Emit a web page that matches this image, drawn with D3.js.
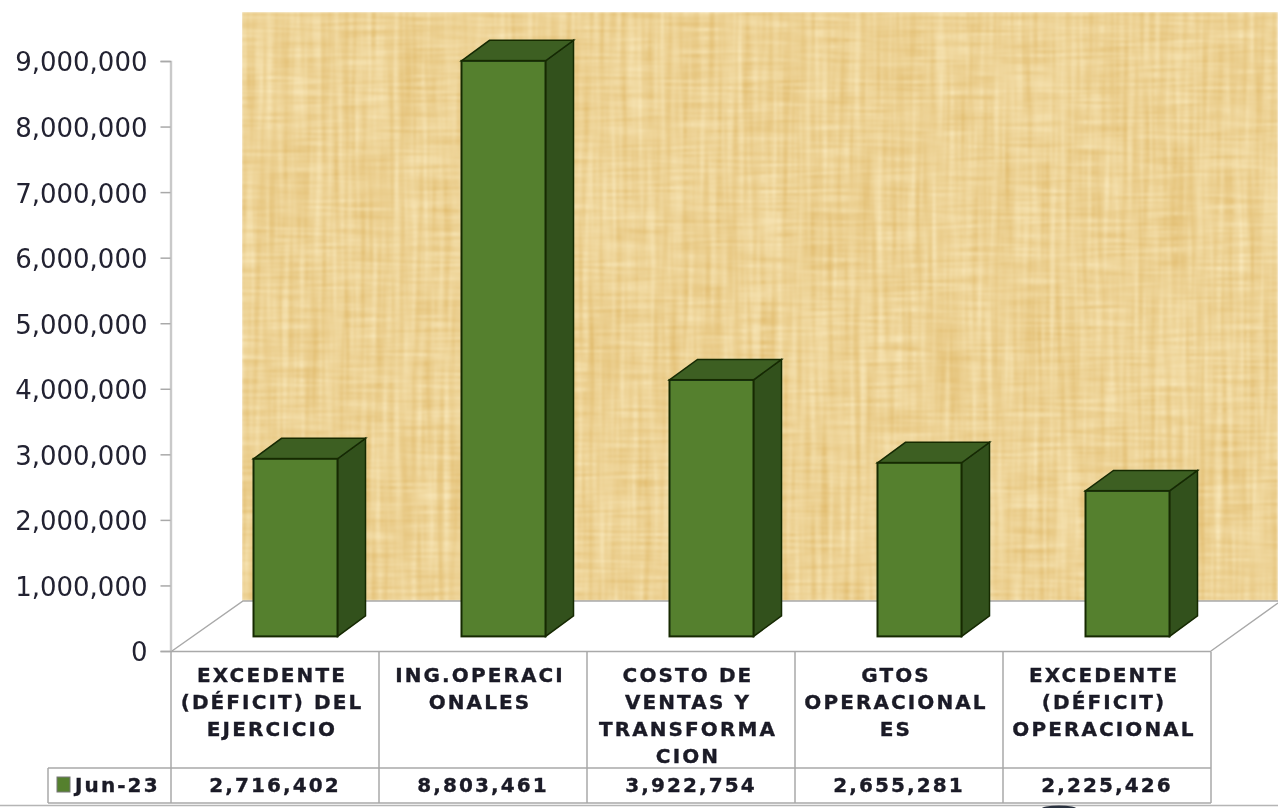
<!DOCTYPE html>
<html><head><meta charset="utf-8">
<script src="https://cdn.jsdelivr.net/npm/d3@7/dist/d3.min.js"></script>
<style>html,body{margin:0;padding:0;background:#fff}svg{display:block}</style>
</head><body><svg id="c" width="1278" height="808"></svg>
<script>
const categories = [
  ["EXCEDENTE","(DÉFICIT) DEL","EJERCICIO"],
  ["ING.OPERACI","ONALES"],
  ["COSTO DE","VENTAS Y","TRANSFORMA","CION"],
  ["GTOS","OPERACIONAL","ES"],
  ["EXCEDENTE","(DÉFICIT)","OPERACIONAL"]
];
const seriesName = "Jun-23";
const values = [2716402, 8803461, 3922754, 2655281, 2225426];
const tickValues = [0,1e6,2e6,3e6,4e6,5e6,6e6,7e6,8e6,9e6];

const svg = d3.select("#c");
const fmt = d3.format(",");
const y = d3.scaleLinear().domain([0,9000000]).range([651,61]);
const yBar = d3.scaleLinear().domain([0,9000000]).range([636.4,48]);
const x = d3.scaleBand().domain(d3.range(values.length)).range([171,1211]);
const grid = "#a9a9a9", ink = "#1a1a26";
const depthX = 28, depthY = 20.5, barW = 84, barShift = 20.5;

const defs = svg.append("defs");
const f = defs.append("filter").attr("id","papyrus").attr("x",0).attr("y",0).attr("width",1).attr("height",1)
  .attr("color-interpolation-filters","sRGB");
f.append("feTurbulence").attr("type","fractalNoise").attr("baseFrequency","0.015 0.3").attr("numOctaves",2).attr("seed",4).attr("result","h");
f.append("feTurbulence").attr("type","fractalNoise").attr("baseFrequency","0.18 0.007").attr("numOctaves",3).attr("seed",9).attr("result","v");
f.append("feComposite").attr("in","h").attr("in2","v").attr("operator","arithmetic").attr("k1",0).attr("k2",.45).attr("k3",.55).attr("k4",0).attr("result","n");
f.append("feColorMatrix").attr("in","n").attr("type","matrix").attr("values",
  "0.16 0 0 0 0.850  0.30 0 0 0 0.675  0.52 0 0 0 0.325  0 0 0 0 1");
f.append("feGaussianBlur").attr("stdDeviation",0.9);
const soft = defs.append("filter").attr("id","soft");
soft.append("feGaussianBlur").attr("stdDeviation",0.45);

// wall and floor
svg.append("rect").attr("x",242).attr("y",12).attr("width",1036).attr("height",589).attr("fill","#eccf92").attr("filter","url(#papyrus)");
const fl = svg.append("g").attr("filter","url(#soft)");
fl.append("path").attr("d","M171,651L243,601H1278V603L1211,651Z").attr("fill","#fff");
fl.append("path").attr("d","M172,651L243,601H1278M1278,603L1211,651").attr("fill","none").attr("stroke",grid).attr("stroke-width",1.5);

// bars
const bars = svg.append("g").attr("filter","url(#soft)").selectAll("g").data(values).join("g");
const bx = (d,i)=>x(i)+x.bandwidth()/2+barShift-barW/2;
const barTop = d=>yBar(d);
const base = yBar(0);
bars.append("path").attr("fill","#33511d").attr("stroke","#162a06").attr("stroke-width",1.5)
  .attr("d",(d,i)=>{const r=bx(d,i)+barW;return `M${r},${barTop(d)}L${r+depthX},${barTop(d)-depthY}V${base-depthY}L${r},${base}Z`});
bars.append("path").attr("fill","#3d5f24").attr("stroke","#162a06").attr("stroke-width",1.5)
  .attr("d",(d,i)=>{const l=bx(d,i),r=l+barW;return `M${l},${barTop(d)}L${l+depthX},${barTop(d)-depthY}H${r+depthX}L${r},${barTop(d)}Z`});
bars.append("rect").attr("x",bx).attr("y",barTop).attr("width",barW).attr("height",d=>base-barTop(d))
  .attr("fill","#55802f").attr("stroke","#162a06").attr("stroke-width",2);

// y axis
const ax = svg.append("g").attr("transform","translate(170.5,0)").attr("filter","url(#soft)")
  .call(d3.axisLeft(y).tickValues(tickValues).tickFormat(fmt).tickSize(10).tickPadding(13));
ax.select(".domain").attr("stroke",grid).attr("stroke-width",1.5);
ax.selectAll(".tick line").attr("stroke",grid).attr("stroke-width",1.5);
ax.selectAll("text").attr("font-family","DejaVu Sans").attr("font-size",26).attr("fill","#222230").attr("dy","0.38em");

// data table
const tb = svg.append("g").attr("filter","url(#soft)");
const rowTop=651.5,rowMid=768,rowBot=803;
const rule=(a,b,c,e)=>tb.append("line").attr("x1",a).attr("y1",b).attr("x2",c).attr("y2",e).attr("stroke",grid).attr("stroke-width",1.5);
rule(171,rowTop,1211,rowTop); rule(48,rowMid,1211,rowMid); rule(48,rowBot,1211,rowBot);
rule(48,rowMid,48,rowBot);
d3.range(values.length+1).forEach(i=>{const px=i<values.length?x(i):1211;rule(px,rowTop,px,rowBot)});
const labelSize=20, spacing=2.1;
const textStyle=s=>s.attr("font-family","DejaVu Sans").attr("font-weight","bold").attr("font-size",labelSize)
  .attr("letter-spacing",spacing).attr("fill",ink).attr("stroke",ink).attr("stroke-width",0.35);
categories.forEach((lines,i)=>{
  const cx=x(i)+x.bandwidth()/2-3;
  const t=tb.append("text").attr("text-anchor","middle").call(textStyle);
  lines.forEach((l,j)=>t.append("tspan").attr("x",cx).attr("y",682+j*27).text(l));
});
tb.selectAll(".val").data(values).join("text").attr("class","val")
  .attr("x",(d,i)=>x(i)+x.bandwidth()/2).attr("y",792).attr("text-anchor","middle").call(textStyle).text(fmt);
tb.append("rect").attr("x",57).attr("y",777).attr("width",13).attr("height",15).attr("fill","#55802f").attr("stroke","#777").attr("stroke-width",1);
tb.append("text").attr("x",75).attr("y",792).call(textStyle).text(seriesName);
// bottom window edge
svg.append("line").attr("x1",0).attr("x2",1278).attr("y1",805.5).attr("y2",805.5).attr("stroke","#b5b5b5").attr("stroke-width",1.5);
svg.append("ellipse").attr("cx",1059).attr("cy",809).attr("rx",18).attr("ry",3.5).attr("fill","#2c3340").attr("filter","url(#soft)");
</script></body></html>
